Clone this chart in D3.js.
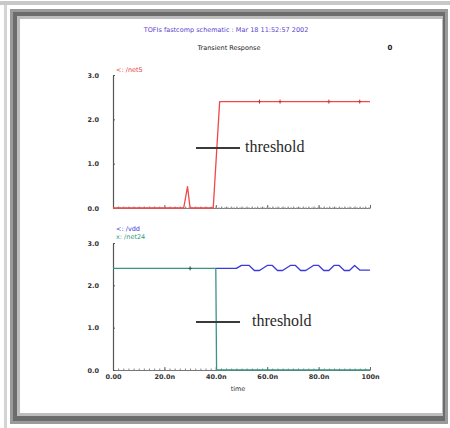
<!DOCTYPE html>
<html>
<head>
<meta charset="utf-8">
<script src="https://cdn.jsdelivr.net/npm/d3@7.9.0/dist/d3.min.js"></script>
<style>
  body { margin: 0; background: #fff; }
  svg { display: block; }
  .tick text { font-family: "DejaVu Sans", sans-serif; font-size: 6.5px; font-weight: bold; fill: #333; }
</style>
</head>
<body>
<script>
// ---- data ----
const timeTicks = [0, 20, 40, 60, 80, 100];
const timeLabels = ['0.00', '20.0n', '40.0n', '60.0n', '80.0n', '100n'];
const voltTicks = [0, 1, 2, 3];
const voltLabels = ['0.0', '1.0', '2.0', '3.0'];

// /net5 (top panel)
const net5T = [0, 27.5, 29, 30, 39, 41.5, 57, 65, 84, 96, 100];
const net5V = [0, 0, 0.48, 0, 0, 2.4, 2.4, 2.4, 2.4, 2.4, 2.4];
const net5Marks = [57, 65, 84, 96];

// /vdd (bottom panel, blue)
const vddT = [40, 48, 50, 53, 55, 57, 60, 62, 64, 66, 69, 71, 73, 75, 78, 80, 82, 84, 86, 88, 90, 92, 94, 96, 100];
const vddV = [2.4, 2.4, 2.47, 2.47, 2.35, 2.35, 2.47, 2.47, 2.35, 2.35, 2.47, 2.47, 2.35, 2.35, 2.47, 2.47, 2.35, 2.35, 2.47, 2.47, 2.35, 2.35, 2.47, 2.36, 2.36];

// /net24 (bottom panel, green)
const net24T = [0, 30, 40, 40.3, 100];
const net24V = [2.4, 2.4, 2.4, 0, 0];
const net24Marks = [30];

const W = 450, H = 428;
const svg = d3.select('body').append('svg').attr('width', W).attr('height', H);

// ---- window frame ----
svg.append('rect').attr('x', 0).attr('y', 0).attr('width', W).attr('height', H).attr('fill', '#fff');
svg.append('rect').attr('x', 0).attr('y', 1).attr('width', W).attr('height', 4).attr('fill', '#c8c8c8');
svg.append('rect').attr('x', 4).attr('y', 5).attr('width', 3).attr('height', H).attr('fill', '#d4d4d4');
svg.append('rect').attr('x', 10).attr('y', 9).attr('width', 438).attr('height', 415).attr('fill', '#9a9a9a');
svg.append('rect').attr('x', 13).attr('y', 12).attr('width', 432).attr('height', 409).attr('fill', '#6c6c6c');
svg.append('rect').attr('x', 17).attr('y', 16).attr('width', 426).attr('height', 400).attr('fill', '#bdbdbd');
svg.append('rect').attr('x', 20).attr('y', 19).attr('width', 422).attr('height', 394).attr('fill', '#fff');

// ---- titles ----
svg.append('text').attr('x', 226).attr('y', 32).attr('text-anchor', 'middle')
  .attr('font-family', 'DejaVu Sans, sans-serif').attr('font-size', 6.5).attr('fill', '#5a3fd0')
  .text('TOFIs fastcomp schematic : Mar 18 11:52:57 2002');
svg.append('text').attr('x', 229).attr('y', 50).attr('text-anchor', 'middle')
  .attr('font-family', 'DejaVu Sans, sans-serif').attr('font-size', 6.5).attr('fill', '#222')
  .text('Transient Response');
svg.append('text').attr('x', 390).attr('y', 50).attr('text-anchor', 'middle')
  .attr('font-family', 'DejaVu Sans, sans-serif').attr('font-size', 7).attr('font-weight', 'bold').attr('fill', '#222')
  .text('0');

const x = d3.scaleLinear().domain([0, 100]).range([113, 370]);
const yTop = d3.scaleLinear().domain([0, 3]).range([208, 75]);
const yBot = d3.scaleLinear().domain([0, 3]).range([370, 243]);

function drawPanel(y, withLabels) {
  // minor ticks along the x axis
  svg.append('g').attr('transform', `translate(0,${y(0)})`)
    .call(d3.axisTop(x).ticks(50).tickSize(1.5).tickFormat(''))
    .call(g => g.select('.domain').remove())
    .selectAll('line').attr('stroke', '#888');
  const xa = svg.append('g').attr('transform', `translate(0,${y(0)})`)
    .call(d3.axisBottom(x).tickValues(timeTicks).tickSizeInner(-3).tickSizeOuter(0)
      .tickFormat((d, i) => withLabels ? timeLabels[i] : ''));
  xa.select('.domain').attr('stroke', '#777');
  xa.selectAll('line').attr('stroke', '#666');
  xa.selectAll('text').attr('dy', '0.9em');

  const ya = svg.append('g').attr('transform', `translate(${x(0)},0)`)
    .call(d3.axisLeft(y).tickValues(voltTicks).tickSizeInner(-2).tickSizeOuter(0)
      .tickFormat((d, i) => voltLabels[i]).tickPadding(14));
  ya.select('.domain').attr('stroke', '#555').attr('stroke-width', 1.2);
  ya.selectAll('line').attr('stroke', '#555');
}

drawPanel(yTop, false);
drawPanel(yBot, true);

function trace(T, V, y, color) {
  const line = d3.line().x((d, i) => x(T[i])).y((d, i) => y(V[i]));
  svg.append('path').datum(T).attr('d', line).attr('fill', 'none')
    .attr('stroke', color).attr('stroke-width', 1.3).attr('stroke-linejoin', 'round');
}

function marks(ts, v, y, color) {
  svg.selectAll(null).data(ts).enter().append('path')
    .attr('d', d => `M${x(d)},${y(v) - 2}V${y(v) + 2}M${x(d) - 1.5},${y(v)}H${x(d) + 1.5}`)
    .attr('stroke', color).attr('stroke-width', 1);
}

// top panel baseline (grey dashes under the red trace)
svg.append('line').attr('x1', x(0)).attr('x2', x(100)).attr('y1', yTop(0)).attr('y2', yTop(0))
  .attr('stroke', '#999').attr('stroke-dasharray', '2,1');
trace(net5T, net5V, yTop, '#f04848');
marks(net5Marks, 2.4, yTop, '#c83030');

trace(vddT, vddV, yBot, '#3a3adc');
trace(net24T, net24V, yBot, '#3a9580');
marks(net24Marks, 2.4, yBot, '#1d5a48');

// legends
svg.append('text').attr('x', 116).attr('y', 72).attr('font-family', 'DejaVu Sans, sans-serif')
  .attr('font-size', 6.5).attr('fill', '#ee4040').text('<: /net5');
svg.append('text').attr('x', 116).attr('y', 231).attr('font-family', 'DejaVu Sans, sans-serif')
  .attr('font-size', 6.5).attr('fill', '#3a3adc').text('<: /vdd');
svg.append('text').attr('x', 116).attr('y', 239).attr('font-family', 'DejaVu Sans, sans-serif')
  .attr('font-size', 6.5).attr('fill', '#2f9a78').text('x: /net24');

// x label
svg.append('text').attr('x', 238).attr('y', 391).attr('text-anchor', 'middle')
  .attr('font-family', 'DejaVu Sans, sans-serif').attr('font-size', 6.5).attr('fill', '#333').text('time');

// threshold annotations
function threshold(x1, x2, yy, tx) {
  svg.append('line').attr('x1', x1).attr('x2', x2).attr('y1', yy).attr('y2', yy)
    .attr('stroke', '#3a3a3a').attr('stroke-width', 2);
  svg.append('text').attr('x', tx).attr('y', yy + 4).attr('font-family', 'Liberation Serif, serif')
    .attr('font-size', 16).attr('fill', '#2a2a2a').text('threshold');
}
threshold(196, 240, 148, 245);
threshold(196, 240, 322, 252);
</script>
</body>
</html>
